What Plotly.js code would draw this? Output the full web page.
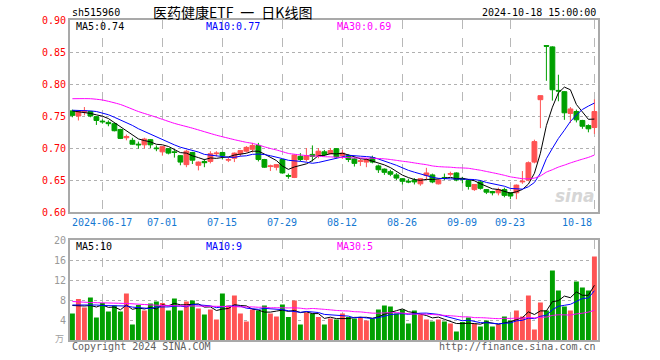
<!DOCTYPE html>
<html><head><meta charset="utf-8">
<script src="https://cdn.plot.ly/plotly-3.0.1.min.js"></script>
<style>html,body{margin:0;padding:0;background:#fff}#chart{width:660px;height:360px}</style>
</head><body><div id="chart"></div><script>
const dates = ['2024-06-07','2024-06-11','2024-06-12','2024-06-13','2024-06-14',
'2024-06-17','2024-06-18','2024-06-19','2024-06-20','2024-06-21','2024-06-24','2024-06-25','2024-06-26','2024-06-27','2024-06-28',
'2024-07-01','2024-07-02','2024-07-03','2024-07-04','2024-07-05','2024-07-08','2024-07-09','2024-07-10','2024-07-11','2024-07-12',
'2024-07-15','2024-07-16','2024-07-17','2024-07-18','2024-07-19','2024-07-22','2024-07-23','2024-07-24','2024-07-25','2024-07-26',
'2024-07-29','2024-07-30','2024-07-31','2024-08-01','2024-08-02','2024-08-05','2024-08-06','2024-08-07','2024-08-08','2024-08-09',
'2024-08-12','2024-08-13','2024-08-14','2024-08-15','2024-08-16','2024-08-19','2024-08-20','2024-08-21','2024-08-22','2024-08-23',
'2024-08-26','2024-08-27','2024-08-28','2024-08-29','2024-08-30','2024-09-02','2024-09-03','2024-09-04','2024-09-05','2024-09-06',
'2024-09-09','2024-09-10','2024-09-11','2024-09-12','2024-09-13','2024-09-18','2024-09-19','2024-09-20',
'2024-09-23','2024-09-24','2024-09-25','2024-09-26','2024-09-27','2024-09-30',
'2024-10-08','2024-10-09','2024-10-10','2024-10-11','2024-10-14','2024-10-15','2024-10-16','2024-10-17','2024-10-18'];

const openP = [0.758,0.750,0.756,0.757,0.749,0.742,0.740,0.738,0.729,0.716,0.712,0.706,0.705,0.713,0.700,
0.694,0.699,0.694,0.688,0.674,0.693,0.673,0.679,0.679,0.691,0.693,0.681,0.684,0.691,0.695,
0.698,0.704,0.682,0.671,0.670,0.682,0.657,0.654,0.687,0.682,0.690,0.688,0.694,0.691,0.699,
0.688,0.687,0.683,0.679,0.678,0.685,0.672,0.667,0.663,0.658,0.652,0.648,0.650,0.644,0.657,
0.658,0.644,0.654,0.659,0.661,0.652,0.649,0.635,0.647,0.635,0.632,0.630,0.635,0.630,0.630,
0.647,0.650,0.678,0.7755,0.860,0.858,0.790,0.788,0.754,0.757,0.743,0.735,0.732];
const highP = [0.760,0.758,0.764,0.758,0.750,0.745,0.743,0.739,0.730,0.721,0.716,0.710,0.716,0.714,0.704,
0.703,0.700,0.697,0.689,0.697,0.694,0.679,0.683,0.695,0.695,0.694,0.685,0.693,0.697,0.703,
0.708,0.708,0.683,0.674,0.675,0.683,0.660,0.690,0.692,0.700,0.704,0.700,0.697,0.700,0.700,
0.697,0.690,0.685,0.683,0.684,0.688,0.674,0.668,0.666,0.661,0.653,0.652,0.653,0.653,0.669,
0.660,0.651,0.660,0.663,0.662,0.655,0.650,0.643,0.650,0.636,0.633,0.638,0.638,0.631,0.643,
0.664,0.679,0.713,0.782,0.860,0.859,0.8145,0.789,0.764,0.760,0.744,0.737,0.776];
const lowP = [0.748,0.743,0.751,0.748,0.736,0.738,0.734,0.726,0.714,0.712,0.705,0.699,0.699,0.700,0.695,
0.688,0.690,0.685,0.673,0.670,0.675,0.665,0.670,0.676,0.687,0.682,0.678,0.678,0.687,0.693,
0.693,0.679,0.669,0.664,0.665,0.660,0.652,0.653,0.679,0.679,0.679,0.684,0.687,0.690,0.684,
0.683,0.678,0.671,0.672,0.670,0.676,0.661,0.658,0.656,0.650,0.643,0.645,0.643,0.641,0.650,
0.645,0.643,0.650,0.656,0.648,0.645,0.635,0.633,0.635,0.628,0.626,0.626,0.623,0.620,0.620,
0.644,0.648,0.676,0.731,0.805,0.774,0.773,0.744,0.739,0.740,0.730,0.7245,0.722];
const closeP = [0.751,0.757,0.758,0.750,0.743,0.741,0.738,0.727,0.715,0.718,0.706,0.705,0.714,0.705,0.699,
0.702,0.692,0.693,0.678,0.695,0.681,0.678,0.677,0.691,0.692,0.688,0.682,0.692,0.696,0.701,
0.704,0.682,0.670,0.672,0.674,0.661,0.656,0.689,0.682,0.688,0.687,0.695,0.690,0.696,0.686,
0.692,0.682,0.676,0.680,0.682,0.678,0.666,0.662,0.659,0.653,0.648,0.647,0.647,0.652,0.661,
0.647,0.650,0.653,0.660,0.650,0.651,0.640,0.643,0.637,0.631,0.630,0.635,0.626,0.625,0.642,
0.648,0.677,0.710,0.7818,0.859,0.791,0.789,0.755,0.761,0.744,0.734,0.730,0.757];
const volume = [5.3,8.2,6.5,8.5,4.5,7.4,5.7,6.9,5.7,9.3,3.1,7.0,5.9,7.3,7.7,
7.4,5.9,8.3,5.9,7.7,7.9,6.3,5.1,6.1,4.1,9.3,6.9,8.9,5.3,3.7,
6.1,5.9,6.9,5.3,4.7,7.1,4.6,7.9,3.1,5.5,5.3,4.6,3.1,4.3,4.1,
5.3,4.6,4.3,4.6,3.9,4.3,6.1,6.9,6.7,5.3,6.1,3.3,5.9,5.1,4.1,
3.7,4.1,3.7,3.3,1.7,3.6,4.5,3.3,2.7,3.9,2.7,3.1,4.7,3.9,5.9,
4.7,8.9,2.1,7.5,5.9,13.9,9.9,6.7,5.9,11.7,10.5,9.9,16.7];

// moving-average values that depend on days before the first candle
const priceMa5Lead = [0.758,0.757,0.756,0.754];
const priceMa10Lead = [0.759,0.759,0.759,0.758,0.757,0.755,0.752,0.748,0.744];
const priceMa30LeadIdx = [0,3,5,8,11,14,17,20,24,27];
const priceMa30LeadVal = [0.777,0.777,0.775,0.768,0.757,0.748,0.7385,0.731,0.720,0.713];
const volMa5Lead = [6.9,6.8,6.8,6.9];
const volMa10Lead = [7.0,7.0,7.1,7.1,7.0,6.9,6.9,6.8,6.8];
const volMa30LeadIdx = [0,3,9,15,20,26];
const volMa30LeadVal = [7.7,7.5,7.3,6.9,6.8,6.7];

const tickDates = ['2024-06-17','2024-07-01','2024-07-15','2024-07-29','2024-08-12','2024-08-26','2024-09-09','2024-09-23','2024-10-18'];
const tickLabels = ['2024-06-17','07-01','07-15','07-29','08-12','08-26','09-09','09-23','10-18'];
const priceTicks = [0.60,0.65,0.70,0.75,0.80,0.85,0.90];
const priceTickText = ['0.60','0.65','0.70','0.75','0.80','0.85','0.90'];
const volTicks = [4,8,12,16,20];
const volTickText = ['4','8','12','16','20'];
const headerCode = 'sh515960';
const headerTitle = '医药健康ETF\u2002一\u2002日K线图';
const headerTime = '2024-10-18 15:00:00';
const priceMaLabels = ['MA5:0.74','MA10:0.77','MA30:0.69'];
const volMaLabels = ['MA5:10','MA10:9','MA30:5'];

const RED = '#ff5353', GREEN = '#00a000';

function movingAvg(vals, n, lead) {
  return vals.map((v, i) => {
    if (i < n - 1) return lead[i];
    let s = 0; for (let k = i - n + 1; k <= i; k++) s += vals[k];
    return s / n;
  });
}
function ma30(vals, leadIdx, leadVal) {
  const xs = leadIdx.map(i => dates[i]), ys = leadVal.slice();
  for (let i = 29; i < vals.length; i++) {
    let s = 0; for (let k = i - 29; k <= i; k++) s += vals[k];
    xs.push(dates[i]); ys.push(s / 30);
  }
  return {xs, ys};
}

const barColors = closeP.map((c, i) => c >= openP[i] ? RED : GREEN);
const pMa30 = ma30(closeP, priceMa30LeadIdx, priceMa30LeadVal);
const vMa30 = ma30(volume, volMa30LeadIdx, volMa30LeadVal);

const traces = [
  {type:'candlestick', x:dates, open:openP, high:highP, low:lowP, close:closeP, xaxis:'x', yaxis:'y',
   increasing:{line:{color:RED,width:1}, fillcolor:RED}, decreasing:{line:{color:GREEN,width:1}, fillcolor:GREEN},
   whiskerwidth:0, hoverinfo:'skip'},
  {type:'scatter', mode:'lines', x:dates, y:movingAvg(closeP,5,priceMa5Lead), line:{color:'#000000',width:1}, xaxis:'x', yaxis:'y', hoverinfo:'skip'},
  {type:'scatter', mode:'lines', x:dates, y:movingAvg(closeP,10,priceMa10Lead), line:{color:'#0000ff',width:1}, xaxis:'x', yaxis:'y', hoverinfo:'skip'},
  {type:'scatter', mode:'lines', x:pMa30.xs, y:pMa30.ys, line:{color:'#ff00ff',width:1,shape:'spline',smoothing:0.6}, xaxis:'x', yaxis:'y', hoverinfo:'skip'},
  {type:'bar', x:dates, y:volume, marker:{color:barColors, line:{width:0}}, xaxis:'x2', yaxis:'y2', hoverinfo:'skip'},
  {type:'scatter', mode:'lines', x:dates, y:movingAvg(volume,5,volMa5Lead), line:{color:'#000000',width:1}, xaxis:'x2', yaxis:'y2', hoverinfo:'skip'},
  {type:'scatter', mode:'lines', x:dates, y:movingAvg(volume,10,volMa10Lead), line:{color:'#0000ff',width:1}, xaxis:'x2', yaxis:'y2', hoverinfo:'skip'},
  {type:'scatter', mode:'lines', x:vMa30.xs, y:vMa30.ys, line:{color:'#ff00ff',width:1,shape:'spline',smoothing:0.6}, xaxis:'x2', yaxis:'y2', hoverinfo:'skip'}
];

// pixel helpers for text placement (plot area: x 70..598, y 20..340)
const PL = 70, PR = 598, PT = 20, PB = 340;
const px = v => (v - PL) / (PR - PL);
const py = v => (PB - v) / (PB - PT);
const mono = 'DejaVu Sans Mono, monospace';

const ann = [];
function txt(text, x, y, anchor, color, size, family, extra) {
  ann.push(Object.assign({text, x:px(x), y:py(y), xref:'paper', yref:'paper', xanchor:anchor, yanchor:'middle',
    showarrow:false, font:{family:family||mono, size:size||10, color}}, extra||{}));
}
txt(headerCode, 70, 12, 'left', '#000');
txt(headerTitle, 151, 12, 'left', '#000', 14, 'Noto Sans CJK SC');
txt(headerTime, 598, 12, 'right', '#000');
txt(priceMaLabels[0], 74, 27, 'left', '#000');
txt(priceMaLabels[1], 204, 27, 'left', '#0000ff');
txt(priceMaLabels[2], 335, 27, 'left', '#ff00ff');
txt(volMaLabels[0], 74, 246, 'left', '#000');
txt(volMaLabels[1], 204, 246, 'left', '#0000ff');
txt(volMaLabels[2], 335, 246, 'left', '#ff00ff');
txt('Copyright 2024 SINA.COM', 70, 346, 'left', '#606060');
txt('http://finance.sina.com.cn', 598, 346, 'right', '#606060');
txt('万', 66, 338, 'right', '#a0a0a0', 9, 'Noto Sans CJK SC');
txt('<i><b>sina</b></i>', 597, 196, 'right', '#d6d6d6', 17, 'DejaVu Sans');
tickDates.forEach((d, k) => {
  const last = k === tickDates.length - 1;
  ann.push({text:tickLabels[k], x:dates.indexOf(d), y:py(222), xref:'x', yref:'paper',
    xanchor:last ? 'right' : 'center', yanchor:'middle', showarrow:false,
    font:{family:mono, size:10, color:'#1478d2'}});
});

const axBase = {showline:true, mirror:true, linecolor:'#a9a9a9', linewidth:2, zeroline:false, fixedrange:true, ticks:''};
const layout = {
  width:660, height:360, margin:{l:70, r:62, t:20, b:20}, paper_bgcolor:'#fff', plot_bgcolor:'#fff',
  showlegend:false, font:{family:mono, size:10}, boxgap:0.2, boxgroupgap:0, bargap:0.18,
  xaxis:Object.assign({}, axBase, {type:'category', anchor:'y', domain:[0,1], range:[-0.4, dates.length - 0.4],
    tickvals:tickDates, showticklabels:false, showgrid:true, gridcolor:'#b8b8b8', griddash:'dash', gridwidth:1,
    rangeslider:{visible:false}}),
  yaxis:Object.assign({}, axBase, {anchor:'x', domain:[0.4,1], range:[0.6,0.9], tickvals:priceTicks, ticktext:priceTickText,
    tickfont:{family:mono, size:10, color:'#ff0000'}, showgrid:true, gridcolor:'#b0b0b0', griddash:'dot', gridwidth:1}),
  xaxis2:Object.assign({}, axBase, {type:'category', anchor:'y2', domain:[0,1], range:[-0.4, dates.length - 0.4],
    tickvals:tickDates, showticklabels:false, showgrid:true, gridcolor:'#b8b8b8', griddash:'dash', gridwidth:1}),
  yaxis2:Object.assign({}, axBase, {anchor:'x2', domain:[0,0.3125], range:[0,20], tickvals:volTicks, ticktext:volTickText,
    tickfont:{family:mono, size:10, color:'#999999'}, showgrid:true, gridcolor:'#b0b0b0', griddash:'dot', gridwidth:1}),
  annotations:ann
};
Plotly.newPlot('chart', traces, layout, {staticPlot:true, displayModeBar:false});
</script></body></html>
